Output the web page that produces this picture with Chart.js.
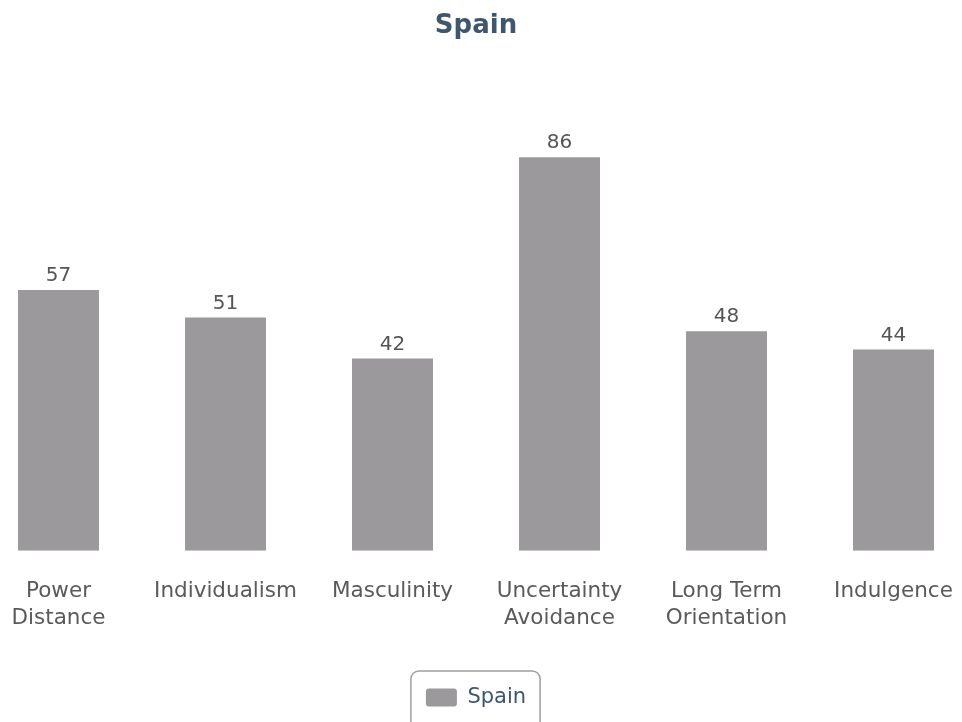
<!DOCTYPE html>
<html>
<head>
<meta charset="utf-8">
<script src="https://cdn.jsdelivr.net/npm/chart.js@4"></script>
<style>
  html, body { margin: 0; padding: 0; background: #fff; overflow: hidden; }
  #wrap { position: absolute; left: -25px; top: 0; width: 1002px; height: 725px; }
</style>
</head>
<body>
<div id="wrap"><canvas id="dims-chart"></canvas></div>
<script>
const countryName = 'Spain';
const dimensions = [['Power', 'Distance'], 'Individualism', 'Masculinity', ['Uncertainty', 'Avoidance'], ['Long Term', 'Orientation'], 'Indulgence'];
const scores = [57, 51, 42, 86, 48, 44];

const fontFamily = '"DejaVu Sans", sans-serif';

// draw the score above each bar
const valueLabels = {
    id: 'valueLabels',
    afterDatasetsDraw(chart) {
        const c = chart.ctx;
        c.save();
        c.font = '20px ' + fontFamily;
        c.fillStyle = '#555555';
        c.textAlign = 'center';
        c.textBaseline = 'bottom';
        chart.getDatasetMeta(0).data.forEach((bar, i) => {
            c.fillText(String(scores[i]), bar.x, bar.y - 4);
        });
        c.restore();
    }
};

// rounded border round the legend (bottom edge runs off the page, as in the original)
const legendBox = {
    id: 'legendBox',
    afterDraw(chart) {
        const lg = chart.legend;
        if (!lg || !lg.legendHitBoxes.length) return;
        const hb = lg.legendHitBoxes[0];
        const c = chart.ctx;
        const x = hb.left - 15, y = hb.top - 16;
        const w = hb.width + 29, h = hb.height + 44;
        c.save();
        c.strokeStyle = '#a0a0a0';
        c.lineWidth = 1.5;
        c.beginPath();
        c.roundRect(x, y, w, h, 8);
        c.stroke();
        c.restore();
    }
};

var ctx = document.getElementById('dims-chart');

var chart = new Chart(ctx, {
    type: 'bar',
    data: {
        labels: dimensions,
        datasets: [{
            label: countryName,
            data: scores,
            backgroundColor: '#9b999c',
            borderWidth: 0,
            categoryPercentage: 1,
            barPercentage: 0.485
        }]
    },
    options: {
        responsive: true,
        maintainAspectRatio: false,
        animation: false,
        layout: { padding: { bottom: 7 } },
        plugins: {
            title: {
                display: true,
                text: countryName,
                color: '#3e576f',
                font: { family: fontFamily, size: 26, weight: 'bold' },
                padding: { top: 11, bottom: 51 }
            },
            legend: {
                position: 'bottom',
                labels: {
                    color: '#3e576f',
                    font: { family: fontFamily, size: 21 },
                    boxWidth: 31,
                    boxHeight: 18,
                    useBorderRadius: true,
                    borderRadius: 3,
                    padding: 36
                }
            },
            tooltip: { enabled: false }
        },
        scales: {
            x: {
                grid: { display: false },
                border: { display: false },
                ticks: {
                    color: '#5a5a5a',
                    font: { family: fontFamily, size: 21.5, lineHeight: 1.26 },
                    maxRotation: 0,
                    padding: 19
                }
            },
            y: {
                display: false,
                min: 0,
                max: 100
            }
        }
    },
    plugins: [valueLabels, legendBox]
});
</script>
</body>
</html>
